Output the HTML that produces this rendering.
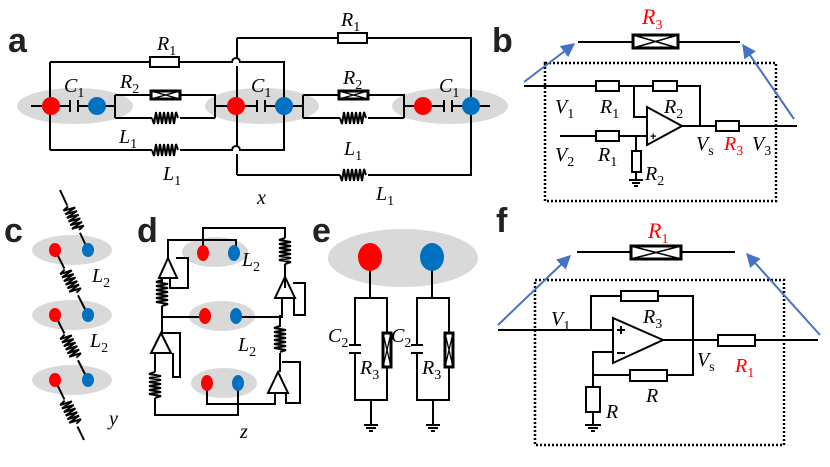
<!DOCTYPE html>
<html><head><meta charset="utf-8"><style>
body{margin:0;background:#fff}
svg{display:block}
.w{stroke:#000;stroke-width:2;fill:none}
.r{fill:#fff;stroke:#000;stroke-width:2}
.rt{fill:#fff;stroke:#000;stroke-width:3}
.l{font-family:"Liberation Serif",serif;font-style:italic;font-size:20px}
.s{font-size:14px;font-style:normal}
.red{fill:#f00}
.P{font-family:"Liberation Sans",sans-serif;font-weight:bold;font-size:34px;fill:#222}
.bl{stroke:#4472c4;stroke-width:2;fill:none}
.dot{stroke:#000;stroke-width:2.5;fill:none;stroke-dasharray:2 2}
</style></head><body>
<svg width="830" height="467" viewBox="0 0 830 467" xmlns="http://www.w3.org/2000/svg">
<defs>
<path id="c" d="M0 0 l2 6 l2 -12 l2 12 l2 -12 l2 12 l2 -12 l2 12 l2 -12 l2 12 l2 -12 l2 12 l2 -12 l2 6" stroke="#000" stroke-width="2" fill="none"/>
<marker id="ah" viewBox="0 0 10 10" refX="9" refY="5" markerWidth="7" markerHeight="7" orient="auto"><path d="M0 0L10 5L0 10z" fill="#4472c4"/></marker>
</defs>

<text class="P" x="8" y="52">a</text>
<text class="P" x="492" y="52">b</text>
<text class="P" x="4" y="242">c</text>
<text class="P" x="137" y="242">d</text>
<text class="P" x="312" y="242">e</text>
<text class="P" x="496" y="232">f</text>

<!-- ===== panel a ===== -->
<g fill="#d9d9d9"><ellipse cx="75" cy="106" rx="58" ry="18"/><ellipse cx="262" cy="106" rx="57" ry="18"/><ellipse cx="450" cy="106" rx="58" ry="18"/></g>
<g class="w">
<path d="M31 106H70M78 106H115M78 100V112M70 100V112"/>
<path d="M115 95V118M115 95H215V118M115 118H152M180 118H215M215 106H236"/>
<path d="M50 62V150M50 62H232a4 4 0 0 1 8 0H284V106M50 150H152M180 150H232a4 4 0 0 1 8 0H284V106"/>
<path d="M236 106H257M265 106H303M257 100V112M265 100V112"/>
<path d="M237 38V58M237 66V146M237 154V175M237 38H471V106M237 175H340M368 175H471V106"/>
<path d="M303 95V118M303 95H404V118M303 118H340M368 118H404M404 106H423"/>
<path d="M423 106H444M452 106H490M444 100V112M452 100V112"/>
</g>
<rect class="r" x="150" y="57" width="29" height="10"/>
<rect class="r" x="338" y="33" width="29" height="10"/>
<g class="rt"><rect x="151" y="91" width="29" height="8"/><rect x="339" y="91" width="29" height="8"/></g>
<path d="M151 91L180 99M151 99L180 91M339 91L368 99M339 99L368 91" stroke="#000" stroke-width="1.2"/>
<use href="#c" x="152" y="118"/><use href="#c" x="340" y="118"/>
<use href="#c" x="152" y="150"/><use href="#c" x="340" y="175"/>
<g fill="#f00"><circle cx="51" cy="106" r="9"/><circle cx="236" cy="106" r="9"/><circle cx="423" cy="106" r="9"/></g>
<g fill="#0070c0"><circle cx="97" cy="106" r="9"/><circle cx="284" cy="106" r="9"/><circle cx="471" cy="106" r="9"/></g>
<g class="l">
<text x="157" y="50">R<tspan class="s" dy="5">1</tspan></text>
<text x="341" y="26">R<tspan class="s" dy="5">1</tspan></text>
<text x="64" y="92">C<tspan class="s" dy="5">1</tspan></text>
<text x="251" y="92">C<tspan class="s" dy="5">1</tspan></text>
<text x="439" y="92">C<tspan class="s" dy="5">1</tspan></text>
<text x="120" y="88">R<tspan class="s" dy="5">2</tspan></text>
<text x="343" y="84">R<tspan class="s" dy="5">2</tspan></text>
<text x="119" y="143">L<tspan class="s" dy="5">1</tspan></text>
<text x="163" y="180">L<tspan class="s" dy="5">1</tspan></text>
<text x="344" y="155">L<tspan class="s" dy="5">1</tspan></text>
<text x="376" y="200">L<tspan class="s" dy="5">1</tspan></text>
<text x="257" y="204">x</text>
</g>

<!-- ===== panel b ===== -->
<path class="dot" d="M545 63H776V201H545Z"/>
<path class="w" d="M578 42H740"/>
<rect class="rt" x="633" y="35" width="45" height="13"/>
<path d="M633 35L678 48M633 48L678 35" stroke="#000" stroke-width="1.5"/>
<path class="bl" d="M524 82L574 44" marker-end="url(#ah)"/>
<path class="bl" d="M794 119L743 45" marker-end="url(#ah)"/>
<g class="w">
<path d="M524 86H700V126M634 86V117H647"/>
<path d="M560 136H647M636 136V180M629 180H643M632 183H640M634 186H638"/>
<path d="M647 107V145L682 126Z"/>
<path d="M682 126H797"/>
</g>
<rect class="r" x="596" y="81" width="23" height="10"/><rect class="r" x="653" y="81" width="24" height="10"/>
<rect class="r" x="596" y="131" width="23" height="10"/><rect class="r" x="632" y="151" width="9" height="21"/>
<rect class="r" x="716" y="121" width="23" height="10"/>
<text x="650" y="140" font-family="Liberation Sans" font-size="11" font-weight="bold">+</text>
<g class="l">
<text x="555" y="113">V<tspan class="s" dy="5">1</tspan></text>
<text x="600" y="113">R<tspan class="s" dy="5">1</tspan></text>
<text x="664" y="113">R<tspan class="s" dy="5">2</tspan></text>
<text x="555" y="161">V<tspan class="s" dy="5">2</tspan></text>
<text x="598" y="161">R<tspan class="s" dy="5">1</tspan></text>
<text x="645" y="180">R<tspan class="s" dy="5">2</tspan></text>
<text x="696" y="150">V<tspan class="s" dy="5">s</tspan></text>
<text class="red" x="724" y="150">R<tspan class="s" dy="5">3</tspan></text>
<text x="752" y="150">V<tspan class="s" dy="5">3</tspan></text>
<text class="red" x="642" y="24" font-size="22">R<tspan class="s" dy="5">3</tspan></text>
</g>

<!-- ===== panel c ===== -->
<g fill="#d9d9d9"><ellipse cx="72" cy="250" rx="40" ry="15"/><ellipse cx="72" cy="315" rx="40" ry="15"/><ellipse cx="72" cy="380" rx="40" ry="15"/></g>
<g class="w"><path d="M60 190L88 250M55 250L88 315M55 315L88 380M55 380L84 440"/></g>
<g fill="#fff">
<rect x="-15" y="-3" width="30" height="6" transform="translate(74 219) rotate(65)"/>
<rect x="-15" y="-3" width="30" height="6" transform="translate(71 282) rotate(63)"/>
<rect x="-15" y="-3" width="30" height="6" transform="translate(71 347) rotate(63)"/>
<rect x="-15" y="-3" width="30" height="6" transform="translate(71 413) rotate(63)"/>
</g>
<use href="#c" transform="translate(74 219) rotate(65) translate(-14 0)"/>
<use href="#c" transform="translate(71 282) rotate(63) translate(-14 0)"/>
<use href="#c" transform="translate(71 347) rotate(63) translate(-14 0)"/>
<use href="#c" transform="translate(71 413) rotate(63) translate(-14 0)"/>
<g fill="#f00"><ellipse cx="55" cy="250" rx="6" ry="7"/><ellipse cx="55" cy="315" rx="6" ry="7"/><ellipse cx="55" cy="380" rx="6" ry="7"/></g>
<g fill="#0070c0"><ellipse cx="88" cy="250" rx="6" ry="7"/><ellipse cx="88" cy="315" rx="6" ry="7"/><ellipse cx="88" cy="380" rx="6" ry="7"/></g>
<g class="l">
<text x="92" y="282">L<tspan class="s" dy="5">2</tspan></text>
<text x="90" y="347">L<tspan class="s" dy="5">2</tspan></text>
<text x="109" y="425">y</text>
</g>

<!-- ===== panel d ===== -->
<g fill="#d9d9d9"><ellipse cx="215" cy="252" rx="33" ry="15"/><ellipse cx="222" cy="316" rx="33" ry="15"/><ellipse cx="224" cy="383" rx="33" ry="15"/></g>
<g class="w">
<path d="M203 253V228H285V238M285 264V288"/>
<path d="M236 253V240H168V258"/>
<path d="M162 278V282M162 306V317H205M162 317V333"/>
<path d="M236 317H282V298M280 327V315M280 353V372"/>
<path d="M155 363V372M155 398V415H238V383"/>
<path d="M207 383V404H275V393"/>
<path d="M168 258L159 278H177Z"/>
<path d="M170 278V288H188V258H176"/>
<path d="M161 333L151 353H171Z"/>
<path d="M161 333H180V377H173V353"/>
<path d="M275 298L285 277L295 298Z"/>
<path d="M293 283H305V315H294V298"/>
<path d="M278 372L268 393H288Z"/>
<path d="M282 362H300V403H286V393"/>
<path d="M155 353V363"/>
</g>
<use href="#c" transform="translate(285 238) rotate(90)"/>
<use href="#c" transform="translate(162 280) rotate(90)"/>
<use href="#c" transform="translate(280 326) rotate(90)"/>
<use href="#c" transform="translate(155 372) rotate(90)"/>
<g fill="#f00"><ellipse cx="203" cy="253" rx="6" ry="8"/><ellipse cx="205" cy="316" rx="6" ry="8"/><ellipse cx="207" cy="383" rx="6" ry="8"/></g>
<g fill="#0070c0"><ellipse cx="234" cy="253" rx="6" ry="8"/><ellipse cx="236" cy="316" rx="6" ry="8"/><ellipse cx="238" cy="383" rx="6" ry="8"/></g>
<g class="l">
<text x="242" y="266">L<tspan class="s" dy="5">2</tspan></text>
<text x="238" y="351">L<tspan class="s" dy="5">2</tspan></text>
<text x="240" y="438">z</text>
</g>

<!-- ===== panel e ===== -->
<ellipse cx="403" cy="258" rx="75" ry="29" fill="#d9d9d9"/>
<g class="w">
<path d="M370 258V298M355 298H387V400H355Z"/>
<path d="M432 258V298M417 298H449V400H417Z"/>
<path d="M371 400V425M364 425H378M366 428H376M369 431H373"/>
<path d="M433 400V425M426 425H440M428 428H438M431 431H435"/>
</g>
<ellipse cx="370" cy="257" rx="12" ry="14" fill="#f00"/>
<ellipse cx="432" cy="257" rx="12" ry="14" fill="#0070c0"/>
<g fill="#fff"><rect x="350" y="346" width="10" height="6"/><rect x="412" y="346" width="10" height="6"/></g>
<g class="w">
<path d="M349 345H361M349 353H361M411 345H423M411 353H423"/>
</g>
<g class="rt"><rect x="383" y="333" width="8" height="34"/><rect x="445" y="333" width="8" height="34"/></g>
<path d="M383 333L391 367M391 333L383 367M445 333L453 367M453 333L445 367" stroke="#000" stroke-width="1.3"/>
<g class="l">
<text x="328" y="342">C<tspan class="s" dy="5">2</tspan></text>
<text x="391" y="342">C<tspan class="s" dy="5">2</tspan></text>
<text x="360" y="374">R<tspan class="s" dy="5">3</tspan></text>
<text x="422" y="374">R<tspan class="s" dy="5">3</tspan></text>
</g>

<!-- ===== panel f ===== -->
<path class="dot" d="M535 280H784V445H535Z"/>
<path class="w" d="M577 252H735"/>
<rect class="rt" x="631" y="246" width="50" height="13"/>
<path d="M631 246L681 259M631 259L681 246" stroke="#000" stroke-width="1.5"/>
<path class="bl" d="M498 325L570 256" marker-end="url(#ah)"/>
<path class="bl" d="M820 335L747 254" marker-end="url(#ah)"/>
<g class="w">
<path d="M498 330H613M591 330V296H693V340"/>
<path d="M613 318V363L663 340Z"/>
<path d="M663 340H818"/>
<path d="M613 352H593V425M593 375H693V340"/>
<path d="M585 425H601M588 428H598M591 431H595"/>
</g>
<rect class="r" x="621" y="291" width="37" height="10"/>
<rect class="r" x="630" y="370" width="37" height="11"/>
<rect class="r" x="586" y="387" width="14" height="25"/>
<rect class="r" x="718" y="335" width="37" height="11"/>
<path d="M617 330H625M621 326V334M617 353H625" stroke="#000" stroke-width="2"/>
<g class="l">
<text x="551" y="325">V<tspan class="s" dy="5">1</tspan></text>
<text x="643" y="323">R<tspan class="s" dy="5">3</tspan></text>
<text x="697" y="366">V<tspan class="s" dy="5">s</tspan></text>
<text class="red" x="735" y="372">R<tspan class="s" dy="5">1</tspan></text>
<text x="646" y="402">R</text>
<text x="606" y="418">R</text>
<text class="red" x="648" y="238" font-size="22">R<tspan class="s" dy="5">1</tspan></text>
</g>
</svg>
</body></html>
